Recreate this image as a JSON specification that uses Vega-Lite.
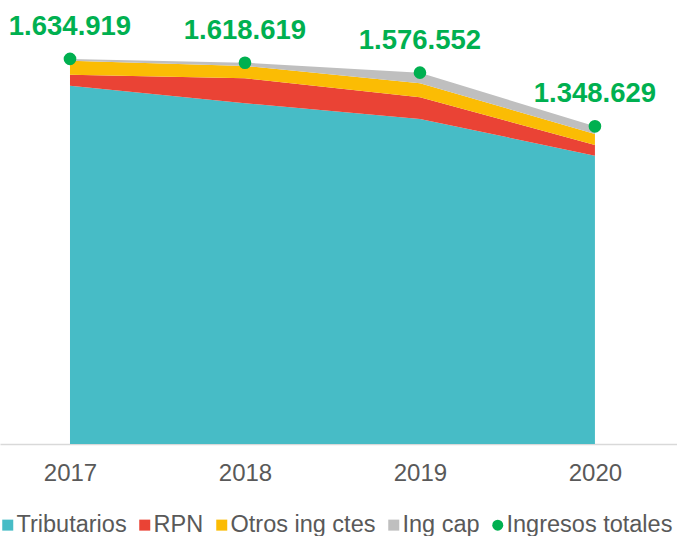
{
  "$schema": "https://vega.github.io/schema/vega-lite/v6.json",
  "width": 677,
  "height": 424,
  "autosize": {"type": "none"},
  "padding": {"left": 0, "top": 20, "right": 0, "bottom": 92},
  "background": "white",
  "config": {
    "view": {"stroke": null},
    "font": "Liberation Sans",
    "locale": {"number": {"decimal": ",", "thousands": ".", "grouping": [3], "currency": ["", ""]}}
  },
  "data": {
    "values": [
      {"anio": 2017, "serie": "Tributarios", "valor": 1521000},
      {"anio": 2017, "serie": "RPN", "valor": 46700},
      {"anio": 2017, "serie": "Otros ing ctes", "valor": 59400},
      {"anio": 2017, "serie": "Ing cap", "valor": 7819},
      {"anio": 2017, "serie": "Ingresos totales", "valor": 1634919},
      {"anio": 2018, "serie": "Tributarios", "valor": 1446600},
      {"anio": 2018, "serie": "RPN", "valor": 106200},
      {"anio": 2018, "serie": "Otros ing ctes", "valor": 52200},
      {"anio": 2018, "serie": "Ing cap", "valor": 13619},
      {"anio": 2018, "serie": "Ingresos totales", "valor": 1618619},
      {"anio": 2019, "serie": "Tributarios", "valor": 1380000},
      {"anio": 2019, "serie": "RPN", "valor": 92100},
      {"anio": 2019, "serie": "Otros ing ctes", "valor": 59400},
      {"anio": 2019, "serie": "Ing cap", "valor": 45052},
      {"anio": 2019, "serie": "Ingresos totales", "valor": 1576552},
      {"anio": 2020, "serie": "Tributarios", "valor": 1224100},
      {"anio": 2020, "serie": "RPN", "valor": 45400},
      {"anio": 2020, "serie": "Otros ing ctes", "valor": 46700},
      {"anio": 2020, "serie": "Ing cap", "valor": 32429},
      {"anio": 2020, "serie": "Ingresos totales", "valor": 1348629}
    ]
  },
  "encoding": {
    "x": {
      "field": "anio",
      "type": "quantitative",
      "scale": {"domain": [2016.6, 2020.469], "nice": false, "zero": false},
      "axis": {
        "title": null,
        "values": [2017, 2018, 2019, 2020],
        "format": "d",
        "grid": false,
        "ticks": false,
        "domainColor": "#D9D9D9",
        "domainWidth": 1.5,
        "labelFontSize": 24,
        "labelColor": "#595959",
        "labelPadding": 17,
        "labelFlush": false
      }
    }
  },
  "layer": [
    {
      "transform": [{"filter": "datum.serie !== 'Ingresos totales'"}],
      "mark": {"type": "area", "interpolate": "linear", "opacity": 1},
      "encoding": {
        "y": {
          "field": "valor",
          "type": "quantitative",
          "stack": "zero",
          "scale": {"domain": [0, 1800000], "nice": false},
          "axis": null
        },
        "color": {
          "field": "serie",
          "type": "nominal",
          "sort": ["Tributarios", "RPN", "Otros ing ctes", "Ing cap", "Ingresos totales"],
          "scale": {
            "domain": ["Tributarios", "RPN", "Otros ing ctes", "Ing cap", "Ingresos totales"],
            "range": ["#47BCC6", "#EA4335", "#FBBC04", "#BFBFBF", "#00B050"]
          },
          "legend": {
            "title": null,
            "orient": "none",
            "direction": "horizontal",
            "legendX": -4,
            "legendY": 493,
            "labelFontSize": 23.5,
            "labelColor": "#595959",
            "labelOffset": -3,
            "labelLimit": 0,
            "columnPadding": 6,
            "symbolSize": 121,
            "symbolStrokeWidth": 0,
            "padding": 0
          }
        }
      }
    },
    {
      "transform": [{"filter": "datum.serie === 'Ingresos totales'"}],
      "mark": {"type": "point", "filled": true, "opacity": 1, "size": 160},
      "encoding": {
        "y": {"field": "valor", "type": "quantitative"},
        "color": {"field": "serie", "type": "nominal"},
        "shape": {
          "field": "serie",
          "type": "nominal",
          "scale": {
            "domain": ["Tributarios", "RPN", "Otros ing ctes", "Ing cap", "Ingresos totales"],
            "range": ["square", "square", "square", "square", "circle"]
          }
        }
      }
    },
    {
      "transform": [{"filter": "datum.serie === 'Ingresos totales'"}],
      "mark": {
        "type": "text",
        "fontSize": 27.5,
        "fontWeight": "bold",
        "color": "#00B050",
        "align": "center",
        "baseline": "alphabetic",
        "dy": -24
      },
      "encoding": {
        "y": {"field": "valor", "type": "quantitative"},
        "text": {"field": "valor", "type": "quantitative", "format": ",d"}
      }
    }
  ]
}
